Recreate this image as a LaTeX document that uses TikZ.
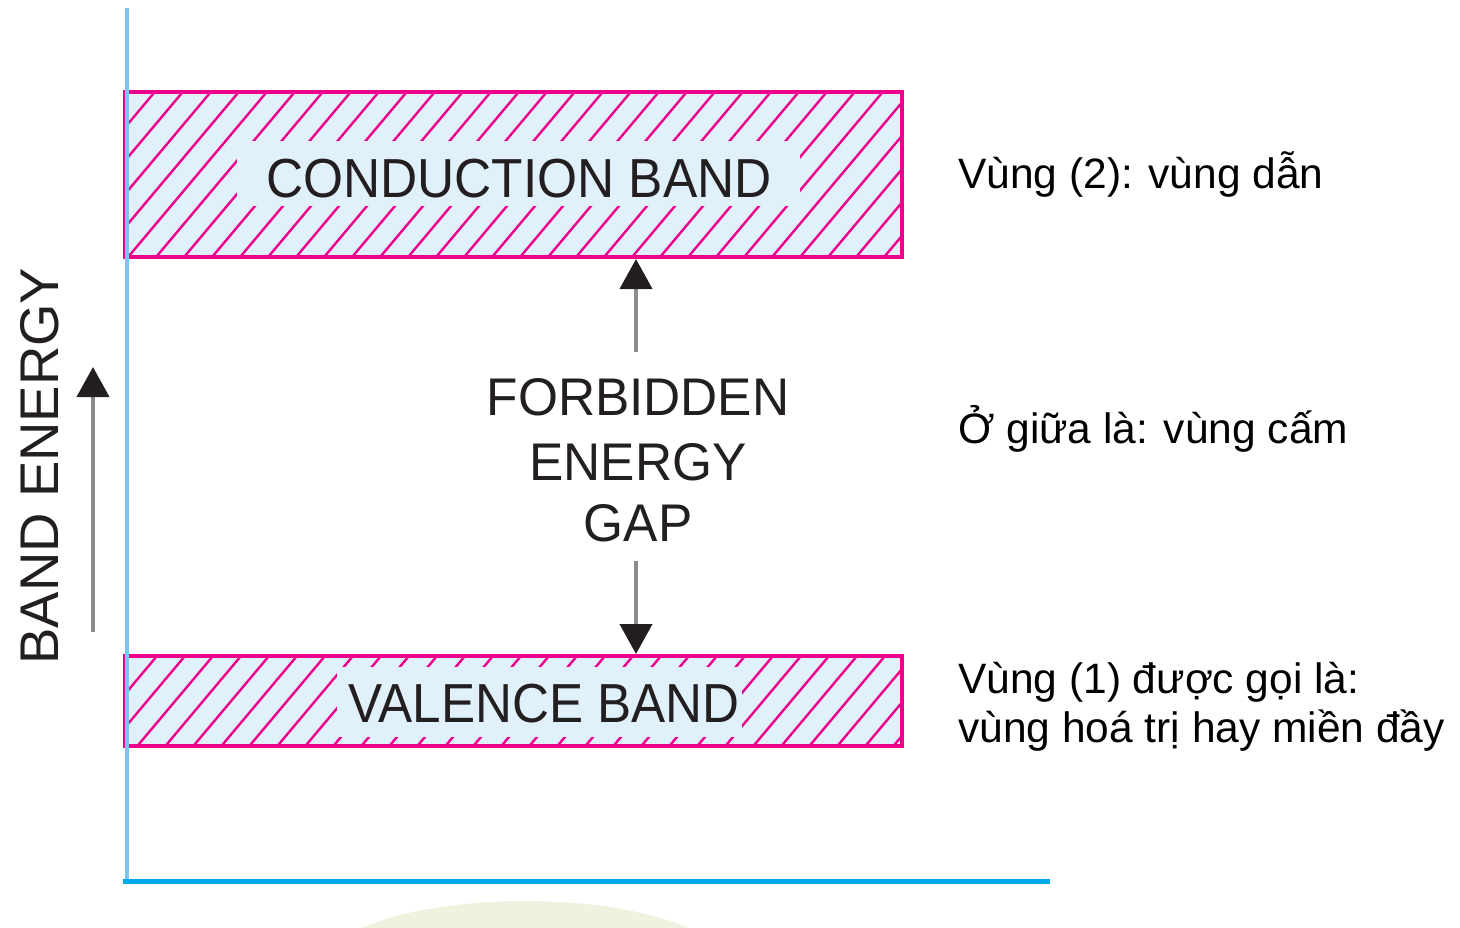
\documentclass[tikz,border=0pt]{standalone}
\usepackage{fontspec}
\setmainfont{Liberation Sans}
\usetikzlibrary{arrows.meta}
\definecolor{mag}{HTML}{EC008C}
\definecolor{bandfill}{HTML}{E1F1FB}
\definecolor{axisv}{HTML}{7CC6F2}
\definecolor{axish}{HTML}{00A9E8}
\definecolor{ink}{HTML}{231F20}
\definecolor{shaft}{HTML}{8C8C8C}
\definecolor{wm}{HTML}{EEF3DF}
\tikzset{
  bandbox/.style={draw=mag, line width=4pt, fill=bandfill},
  hatchline/.style={draw=mag, line width=2.4pt},
  gapbox/.style={fill=bandfill, draw=none},
  bandlabel/.style={text=ink, inner sep=0pt, anchor=base, font=\fontsize{55}{60}\selectfont},
  gaplabel/.style={text=ink, inner sep=0pt, anchor=base, font=\fontsize{53}{60}\selectfont},
  note/.style={text=black, inner sep=0pt, anchor=base west, font=\fontsize{42.5}{50}\selectfont},
  energyarrow/.style={draw=shaft, line width=4pt, -{Triangle[length=30pt,width=32pt,color=ink]}},
}
\begin{document}
\begin{tikzpicture}[x=1pt,y=-1pt]
\useasboundingbox (0,0) rectangle (1460,927);
% faint watermark
\begin{scope}
\clip (0,0) rectangle (1460,927);
\fill[wm] (525,965) ellipse[x radius=200, y radius=64];
\end{scope}
% conduction band
\coordinate (cb1) at (125,92);
\coordinate (cb2) at (902,257);
\fill[bandfill] (cb1) rectangle (cb2);
\begin{scope}
\clip (cb1) rectangle (cb2);
\foreach \x in {-1000,-972,...,1000} \draw[hatchline] (\x,1000) -- ++(840,-1000);
\end{scope}
\fill[gapbox] (237,141) rectangle (800,206);
\draw[bandbox, fill=none] (cb1) rectangle (cb2);
\node[bandlabel] (cond) at (519,197) {\scalebox{0.935}[1]{CONDUCTION BAND}};
% valence band
\coordinate (vb1) at (125,656);
\coordinate (vb2) at (902,746);
\fill[bandfill] (vb1) rectangle (vb2);
\begin{scope}
\clip (vb1) rectangle (vb2);
\foreach \x in {-1000,-972,...,1000} \draw[hatchline] (\x,1000) -- ++(840,-1000);
\end{scope}
\fill[gapbox] (337,667) rectangle (742,737);
\draw[bandbox, fill=none] (vb1) rectangle (vb2);
\node[bandlabel] (val) at (544,722) {\scalebox{0.93}[1]{VALENCE BAND}};
% axes
\coordinate (ytop) at (127,8);
\coordinate (org) at (127,881);
\coordinate (xend) at (1050,881);
\draw[axisv, line width=4pt] (ytop) -- (org);
\draw[axish, line width=5pt] (123,881) -- (xend);
% band energy label and arrow
\node[gaplabel, rotate=90, anchor=center, font=\fontsize{54.5}{60}\selectfont] (be) at (40,466) {BAND ENERGY};
\coordinate (a1) at (93,632);
\coordinate (a2) at (93,367);
\draw[energyarrow] (a1) -- (a2);
% forbidden gap
\node[gaplabel] (f1) at (638,415) {\scalebox{0.97}[1]{FORBIDDEN}};
\node[gaplabel] (f2) at (638,480) {\scalebox{0.97}[1]{ENERGY}};
\node[gaplabel] (f3) at (638,541) {\scalebox{0.97}[1]{GAP}};
\coordinate (u1) at (636,352);
\coordinate (u2) at (636,259);
\coordinate (d1) at (636,561);
\coordinate (d2) at (636,654);
\draw[energyarrow] (u1) -- (u2);
\draw[energyarrow] (d1) -- (d2);
% notes
\node[note] (n1) at (958,188) {Vùng (2): vùng dẫn};
\node[note] (n2) at (958,443) {Ở giữa là: vùng cấm};
\node[note] (n3) at (958,693) {Vùng (1) được gọi là:};
\node[note] (n4) at (958,742) {vùng hoá trị hay miền đầy};
\end{tikzpicture}
\end{document}
